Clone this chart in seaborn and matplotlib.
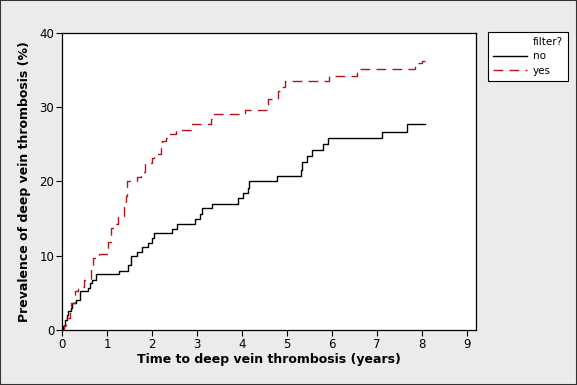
import numpy as np
import pandas as pd
import matplotlib
matplotlib.use('Agg')
import matplotlib.pyplot as plt
from matplotlib.lines import Line2D
from matplotlib.patches import Rectangle
import seaborn as sns

# step curves (time in years, prevalence in %)
no_time = [0, 0.02, 0.06, 0.10, 0.13, 0.19, 0.22, 0.32, 0.41, 0.58, 0.63,
           0.67, 0.75, 1.26, 1.47, 1.54, 1.67, 1.78, 1.91, 1.99, 2.04, 2.44,
           2.56, 2.96, 3.06, 3.11, 3.33, 3.91, 4.02, 4.13, 4.15, 4.78, 5.32,
           5.34, 5.44, 5.56, 5.79, 5.92, 7.10, 7.67, 8.07]
no_prev = [0, 0.5, 1.4, 2.0, 2.5, 2.9, 3.6, 4.1, 5.2, 5.7, 6.3,
           6.8, 7.6, 8.0, 8.8, 10.0, 10.5, 11.2, 11.7, 12.4, 13.1, 13.6,
           14.3, 15.0, 15.6, 16.4, 17.0, 17.8, 18.5, 19.1, 20.1, 20.8, 21.6,
           22.6, 23.4, 24.2, 25.0, 25.8, 26.7, 27.8, 27.8]

yes_time = [0, 0.04, 0.12, 0.17, 0.21, 0.28, 0.36, 0.49, 0.64, 0.69, 0.83,
            1.02, 1.08, 1.16, 1.24, 1.37, 1.43, 1.45, 1.67, 1.76, 1.85, 1.99,
            2.04, 2.19, 2.22, 2.32, 2.36, 2.54, 2.87, 3.32, 3.36, 4.06, 4.58,
            4.80, 4.85, 4.95, 5.93, 6.56, 7.85, 8.00, 8.07]
yes_prev = [0, 0.7, 1.6, 2.5, 3.6, 5.2, 5.8, 6.8, 8.3, 9.7, 10.3,
            11.9, 13.8, 14.3, 15.3, 16.9, 18.0, 20.0, 20.6, 21.3, 22.5, 23.1,
            23.7, 24.5, 25.5, 25.8, 26.4, 26.9, 27.7, 28.4, 29.1, 29.6, 31.1,
            32.2, 32.7, 33.5, 34.2, 35.1, 36.0, 36.2, 36.2]

df = pd.concat([
    pd.DataFrame({'time': no_time, 'prev': no_prev, 'filter': 'no'}),
    pd.DataFrame({'time': yes_time, 'prev': yes_prev, 'filter': 'yes'}),
])

plt.rcParams['font.family'] = ['DejaVu Sans']
bg = '#ebebeb'
red = '#b5121b'
dash = (7, 4.5)

fig = plt.figure(figsize=(5.77, 3.85), dpi=100, facecolor=bg)
ax = fig.add_axes([62 / 577, 1 - 330 / 385, 414 / 577, 297 / 385])
ax.set_facecolor('white')

sns.lineplot(
    data=df, x='time', y='prev', hue='filter', style='filter',
    palette={'no': 'black', 'yes': red},
    dashes={'no': '', 'yes': dash},
    drawstyle='steps-post', estimator=None, sort=True,
    linewidth=1.0, legend=False, ax=ax
)

ax.set_xlim(0, 9.2)
ax.set_ylim(0, 40)
ax.set_xticks(range(0, 10))
ax.set_yticks([0, 10, 20, 30, 40])
ax.tick_params(direction='out', length=4, width=0.8, labelsize=8.5,
               colors='black', pad=1.5)
for s in ax.spines.values():
    s.set_linewidth(0.9)
    s.set_color('black')

ax.set_xlabel('Time to deep vein thrombosis (years)', fontsize=9,
              fontweight='bold', labelpad=2)
ax.set_ylabel('Prevalence of deep vein thrombosis (%)', fontsize=9,
              fontweight='bold', labelpad=6)

handles = [Line2D([], [], color='none'),
           Line2D([], [], color='black', lw=1),
           Line2D([], [], color=red, lw=1, dashes=dash)]
leg = ax.legend(handles, ['filter?', 'no', 'yes'], loc='upper left',
                bbox_to_anchor=(1.029, 1.003), fontsize=7.5, frameon=True,
                fancybox=False, edgecolor='black', framealpha=1,
                handlelength=3.2, handletextpad=0.6, labelspacing=0.4,
                borderpad=0.5, borderaxespad=0)
leg.get_frame().set_linewidth(0.8)

fig.patches.append(Rectangle((0, 0), 1, 1, transform=fig.transFigure,
                             fill=False, edgecolor='#333333', linewidth=1.5))

fig.savefig('out.png', dpi=100, facecolor=bg)
